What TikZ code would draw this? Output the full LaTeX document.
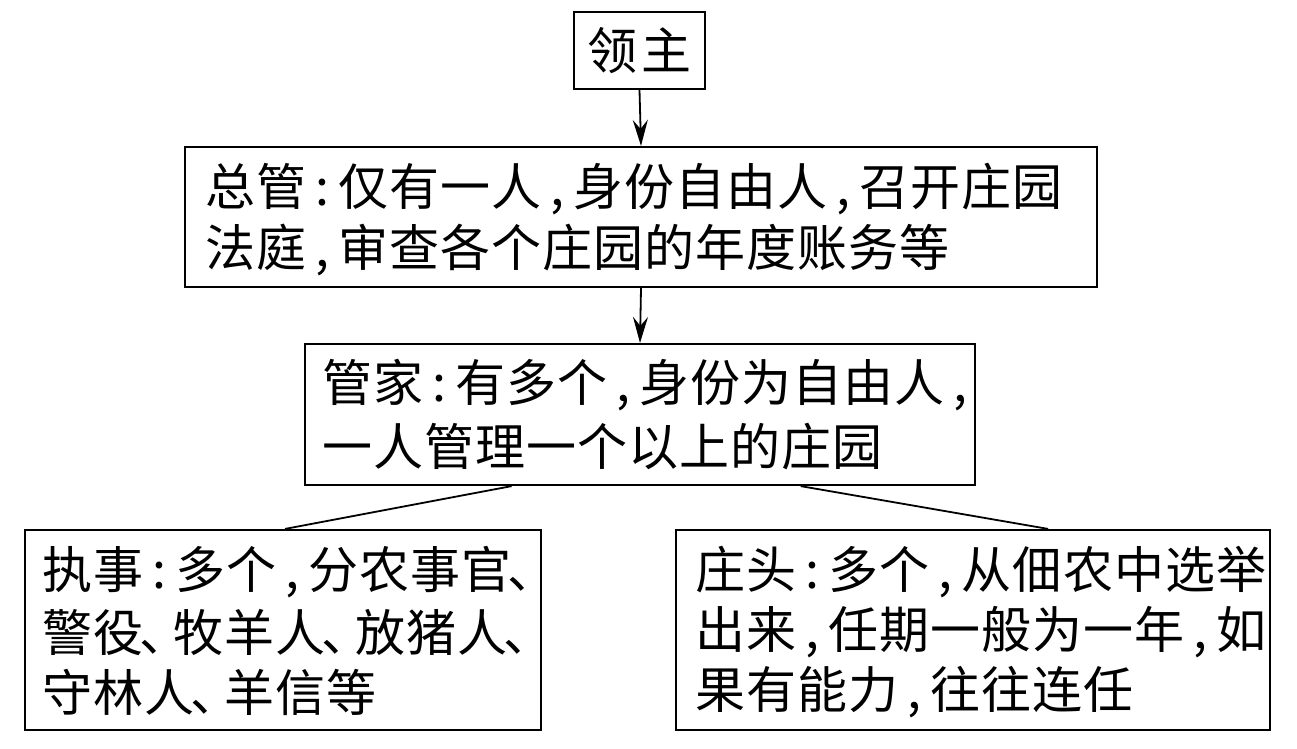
\documentclass[tikz,border=0pt]{standalone}
\usepackage{fontspec}
\newfontfamily\cjk[LetterSpace=2]{Noto Sans CJK SC}
\usetikzlibrary{arrows.meta,calc}
\newcommand\pco{\makebox[32pt]{:}}
\newcommand\pcm{\makebox[32pt]{,}}
\newcommand\pdn{\makebox[30pt][l]{\hspace{-4pt}、}}
\begin{document}
\begin{tikzpicture}[x=1pt,y=-1pt,
  box/.style={draw=black,line width=2.2pt,fill=none,inner sep=0pt},
  txt/.style={anchor=west,inner sep=0pt,font=\cjk\fontsize{50}{60}\selectfont},
  conn/.style={line width=1.8pt},
  arr/.style={line width=1.8pt,-{Stealth[length=26pt,width=15pt,inset=9pt]}}]
\useasboundingbox (0,0) rectangle (1297,748);
% boxes
\node[box,minimum width=131pt,minimum height=77pt] (lz) at (639.5,50.5) {};
\node[box,minimum width=912pt,minimum height=140pt] (zg) at (641,217) {};
\node[box,minimum width=670pt,minimum height=141pt] (gj) at (640,414.5) {};
\node[box,minimum width=516pt,minimum height=200pt] (zs) at (283,630) {};
\node[box,minimum width=594pt,minimum height=200pt] (zt) at (973,630) {};
% texts
\node[txt,anchor=center] (t0) at (lz.center) {领\hspace{4pt}主};
\node[txt] (t1) at (205,189) {总管\pco 仅有一人\pcm 身份自由人\pcm 召开庄园};
\node[txt] (t2) at (205,250) {法庭\pcm 审查各个庄园的年度账务等};
\node[txt] (t3) at (322,385) {管家\pco 有多个\pcm 身份为自由人\pcm};
\node[txt] (t4) at (322,447) {一人管理一个以上的庄园};
\node[txt] (t5) at (42,572) {执事\pco 多个\pcm 分农事官\pdn};
\node[txt] (t6) at (42,632) {警役\pdn 牧羊人\pdn 放猪人\pdn};
\node[txt] (t7) at (42,692) {守林人\pdn 羊信等};
\node[txt] (t8) at (695,572) {庄头\pco 多个\pcm 从佃农中选举};
\node[txt] (t9) at (695,632) {出来\pcm 任期一般为一年\pcm 如};
\node[txt] (t10) at (695,692) {果有能力\pcm 往往连任};
% connectors
\draw[arr] (lz.south) -- (zg.north);
\draw[arr] (zg.south) -- (gj.north);
\coordinate (gl) at ($(gj.south west)!0.309!(gj.south east)$);
\coordinate (gr) at ($(gj.south west)!0.739!(gj.south east)$);
\coordinate (zsT) at ($(zs.north west)!0.504!(zs.north east)$);
\coordinate (ztT) at ($(zt.north west)!0.626!(zt.north east)$);
\draw[conn] (gl) -- (zsT);
\draw[conn] (gr) -- (ztT);
\end{tikzpicture}
\end{document}
